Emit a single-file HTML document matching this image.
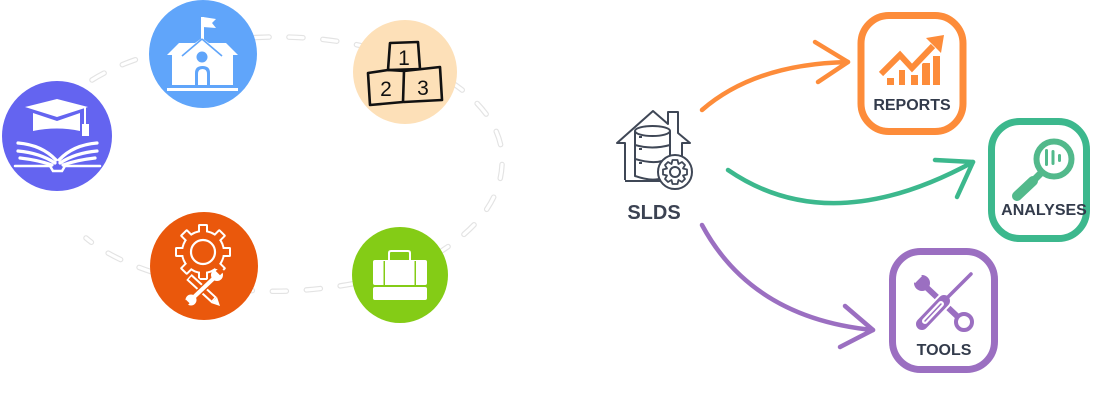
<!DOCTYPE html>
<html>
<head>
<meta charset="utf-8">
<style>
  html,body{margin:0;padding:0;background:#ffffff;}
  svg{display:block;}
  text{font-family:"Liberation Sans",sans-serif;}
</style>
</head>
<body>
<svg width="1100" height="400" viewBox="0 0 1100 400" xmlns="http://www.w3.org/2000/svg">
  <rect width="1100" height="400" fill="#ffffff"/>

  <!-- dashed loop -->
  <g fill="none" stroke-linecap="round">
    <path d="M 92,80 C 140,50 220,36 285,37 C 330,38 380,45 430,70 C 480,95 505,130 502,165 C 500,205 470,235 430,258 C 400,275 350,288 290,291 C 220,294 130,275 86,238"
      stroke="#e3e3e3" stroke-width="5.5" stroke-dasharray="14 20"/>
    <path d="M 92,80 C 140,50 220,36 285,37 C 330,38 380,45 430,70 C 480,95 505,130 502,165 C 500,205 470,235 430,258 C 400,275 350,288 290,291 C 220,294 130,275 86,238"
      stroke="#ffffff" stroke-width="3.2" stroke-dasharray="14 20"/>
  </g>

  <!-- Purple circle: graduation -->
  <circle cx="57" cy="136" r="55" fill="#6464f0"/>
  <g fill="#ffffff">
    <path d="M33,113 L57,121 L80,113 L80,131 Q57,126 33,131 Z"/>
    <polygon points="25,107 57,99 88,107 57,117"/>
    <rect x="84" y="107" width="2" height="18"/>
    <rect x="82" y="124" width="7" height="12"/>
  </g>
  <g fill="none" stroke="#ffffff" stroke-width="3.2" stroke-linecap="round">
    <path d="M18,143 Q42,145 56,160"/>
    <path d="M18,151 Q40,153 55,163"/>
    <path d="M20,158 Q38,160 52,165"/>
    <path d="M97,143 Q73,145 59,160"/>
    <path d="M97,151 Q75,153 60,163"/>
    <path d="M95,158 Q77,160 63,165"/>
    <path d="M15,166 L50,166 L53,171 L62,171 L65,166 L100,166" stroke-width="2.5"/>
  </g>

  <!-- Blue circle: school -->
  <circle cx="203" cy="54" r="54" fill="#60a5fa"/>
  <g fill="#ffffff">
    <rect x="201" y="17" width="3" height="24"/>
    <polygon points="203,17 216,19 212,23 216,28 203,27"/>
    <polygon points="167,55 179,43 195,43 202,38 209,43 226,43 238,55"/>
    <rect x="172" y="55" width="61" height="30"/>
    <rect x="167" y="88" width="71" height="3"/>
  </g>
  <g fill="none" stroke="#60a5fa" stroke-width="1.6">
    <path d="M202,39 L182,56 M202,39 L222,56"/>
  </g>
  <circle cx="202" cy="57" r="5.5" fill="#60a5fa"/>
  <path d="M195,85 L195,73 Q195,66 202.5,66 Q210,66 210,73 L210,85 Z" fill="#60a5fa"/>
  <path d="M198,85 L198,74 Q198,69 202.5,69 Q207,69 207,74 L207,85 Z" fill="#ffffff"/>

  <!-- Peach circle: blocks -->
  <circle cx="405" cy="72" r="52" fill="#fde0b8"/>
  <g fill="none" stroke="#111111" stroke-width="2.6" stroke-linejoin="round" stroke-linecap="round">
    <path d="M390,43 L418,42 L420,69 L388,70 Z"/>
    <path d="M368,73 L388,70 L404,71 L403,102 L370,105 Z"/>
    <path d="M404,71 L440,67 L442,100 L404,102"/>
  </g>
  <g fill="#111111" font-size="21" text-anchor="middle">
    <text x="404" y="65">1</text>
    <text x="386" y="96">2</text>
    <text x="423" y="95">3</text>
  </g>

  <!-- Green circle: briefcase -->
  <circle cx="400" cy="275" r="48" fill="#84cc16"/>
  <g fill="#ffffff">
    <rect x="373" y="260" width="54" height="25" rx="2"/>
    <rect x="373" y="287" width="54" height="13" rx="2"/>
  </g>
  <rect x="383.5" y="261" width="1.5" height="24" fill="#84cc16"/>
  <rect x="414.5" y="261" width="1.5" height="24" fill="#84cc16"/>
  <path d="M389,260 L389,253 Q389,251 391,251 L408,251 Q410,251 410,253 L410,260" fill="none" stroke="#ffffff" stroke-width="2"/>

  <!-- Orange circle: gear + tools -->
  <circle cx="204" cy="266" r="54" fill="#ea580c"/>
  <g>
    <g fill="#ffffff">
      <circle cx="203" cy="252" r="22"/>
      <rect x="198" y="224" width="10" height="12" rx="1.5"/>
      <rect x="198" y="224" width="10" height="12" rx="1.5" transform="rotate(45 203 252)"/>
      <rect x="198" y="224" width="10" height="12" rx="1.5" transform="rotate(90 203 252)"/>
      <rect x="198" y="224" width="10" height="12" rx="1.5" transform="rotate(135 203 252)"/>
      <rect x="198" y="224" width="10" height="12" rx="1.5" transform="rotate(180 203 252)"/>
      <rect x="198" y="224" width="10" height="12" rx="1.5" transform="rotate(225 203 252)"/>
      <rect x="198" y="224" width="10" height="12" rx="1.5" transform="rotate(270 203 252)"/>
      <rect x="198" y="224" width="10" height="12" rx="1.5" transform="rotate(315 203 252)"/>
    </g>
    <g fill="#ea580c">
      <circle cx="203" cy="252" r="20"/>
      <rect x="200" y="226" width="6" height="12" transform="rotate(0 203 252)"/>
      <rect x="200" y="226" width="6" height="12" transform="rotate(45 203 252)"/>
      <rect x="200" y="226" width="6" height="12" transform="rotate(90 203 252)"/>
      <rect x="200" y="226" width="6" height="12" transform="rotate(135 203 252)"/>
      <rect x="200" y="226" width="6" height="12" transform="rotate(180 203 252)"/>
      <rect x="200" y="226" width="6" height="12" transform="rotate(225 203 252)"/>
      <rect x="200" y="226" width="6" height="12" transform="rotate(270 203 252)"/>
      <rect x="200" y="226" width="6" height="12" transform="rotate(315 203 252)"/>
    </g>
    <circle cx="203" cy="252" r="12" fill="none" stroke="#ffffff" stroke-width="2.2"/>
    <!-- pencil -->
    <g stroke-linecap="butt">
      <line x1="189" y1="277" x2="214" y2="300" stroke="#ea580c" stroke-width="11"/>
      <line x1="189" y1="277" x2="214" y2="300" stroke="#ffffff" stroke-width="8"/>
      <line x1="190" y1="278" x2="213" y2="299" stroke="#ea580c" stroke-width="4"/>
      <polygon points="211,303 217,297 220,306" fill="#ffffff"/>
    </g>
    <!-- wrench -->
    <line x1="214" y1="278" x2="194" y2="297" stroke="#ea580c" stroke-width="7"/>
    <line x1="214" y1="278" x2="194" y2="297" stroke="#ffffff" stroke-width="4"/>
    <circle cx="217" cy="275" r="6" fill="#ffffff"/>
    <rect x="217" y="268" width="6" height="6" fill="#ea580c" transform="rotate(45 220 271)"/>
    <circle cx="191" cy="300" r="5.5" fill="#ffffff"/>
    <rect x="183" y="301" width="5" height="5" fill="#ea580c" transform="rotate(45 186 304)"/>
  </g>

  <!-- SLDS icon -->
  <g fill="none" stroke="#3f4756" stroke-width="2" stroke-linejoin="round">
    <path d="M625,180 L625,143 L617,143 L653,111 L668,124 L668,112 L678,112 L678,133 L690,143 L682,143 L682,156"/>
    <path d="M625,181 L660,181"/>
    <ellipse cx="652.5" cy="131" rx="17.5" ry="5"/>
    <path d="M635,131 L635,176 Q652,182 662,178"/>
    <path d="M670,131 L670,156"/>
    <path d="M635,145 Q652,150 670,145"/>
    <path d="M635,159 Q652,164 662,161"/>
    <circle cx="675" cy="172" r="17" fill="#ffffff"/>
    <circle cx="675" cy="172" r="5"/>
  </g>
  <g fill="#3f4756">
    <rect x="639" y="148" width="3" height="2"/>
    <rect x="639" y="162" width="3" height="2"/>
    <rect x="639" y="136" width="3" height="2"/>
  </g>
  <g fill="none" stroke="#3f4756" stroke-width="1.8" stroke-linejoin="round">
    <path d="M672.5,160 L677.5,160 L678.5,164 L682,162 L685,165 L683,168.5 L687,169.5 L687,174.5 L683,175.5 L685,179 L682,182 L678.5,180 L677.5,184 L672.5,184 L671.5,180 L668,182 L665,179 L667,175.5 L663,174.5 L663,169.5 L667,168.5 L665,165 L668,162 L671.5,164 Z"/>
  </g>
  <text x="654" y="219" font-size="20" font-weight="bold" fill="#3b4252" text-anchor="middle">SLDS</text>

  <!-- Arrows -->
  <g fill="none" stroke-linecap="round" stroke-linejoin="round" stroke-width="4.5">
    <path d="M702,110 Q755,64 848,62" stroke="#fd8c3a"/>
    <path d="M815,42 L848,62 L818,82" stroke="#fd8c3a"/>
    <path d="M728,170 Q830,240 973,162" stroke="#3cb88d"/>
    <path d="M935,160 L973,162 L957,197" stroke="#3cb88d"/>
    <path d="M702,225 Q752,318 873,330" stroke="#9b6fc1"/>
    <path d="M845,306 L873,330 L840,347" stroke="#9b6fc1"/>
  </g>

  <!-- REPORTS box -->
  <rect x="861" y="15.5" width="102" height="116" rx="28" fill="#ffffff" stroke="#fd8c3a" stroke-width="7"/>
  <g fill="#fd8c3a">
    <rect x="887" y="78" width="7" height="7"/>
    <rect x="899" y="70" width="6" height="15"/>
    <rect x="911" y="75" width="7" height="10"/>
    <rect x="922" y="63" width="8" height="22"/>
    <rect x="933" y="56" width="7" height="29"/>
  </g>
  <path d="M880,75 L900,54 L912,67 L934,45" fill="none" stroke="#ffffff" stroke-width="10" stroke-linejoin="miter"/>
  <path d="M881,74 L900,55 L912,68 L933,46" fill="none" stroke="#fd8c3a" stroke-width="6" stroke-linejoin="miter"/>
  <polygon points="926,38 944,35 941,53" fill="#fd8c3a"/>
  <text x="912" y="110" font-size="16" font-weight="bold" fill="#333b4b" text-anchor="middle">REPORTS</text>

  <!-- ANALYSES box -->
  <rect x="991.5" y="121.5" width="95" height="117" rx="28" fill="#ffffff" stroke="#3cb88d" stroke-width="7"/>
  <g fill="none" stroke="#52b98b" stroke-linecap="round">
    <circle cx="1054" cy="159" r="17.5" stroke-width="6"/>
    <line x1="1040" y1="174" x2="1035" y2="179" stroke-width="7"/>
    <line x1="1033" y1="181" x2="1017" y2="196" stroke-width="10"/>
  </g>
  <g fill="#52b98b">
    <rect x="1045" y="149" width="3" height="17" rx="1.5"/>
    <rect x="1051.5" y="150" width="3" height="15" rx="1.5"/>
    <rect x="1058" y="154" width="3" height="8" rx="1.5"/>
  </g>
  <text x="1044" y="215" font-size="16" font-weight="bold" fill="#333b4b" text-anchor="middle">ANALYSES</text>

  <!-- TOOLS box -->
  <rect x="892.5" y="251.5" width="102" height="118" rx="28" fill="#ffffff" stroke="#9b6fc1" stroke-width="7"/>
  <g stroke="#9b6fc1" stroke-linecap="round" fill="none">
    <line x1="924" y1="285" x2="958" y2="317" stroke-width="6"/>
    <circle cx="922" cy="283" r="8" fill="#9b6fc1" stroke="none"/>
    <rect x="910" y="271" width="10" height="10" fill="#ffffff" stroke="none" transform="rotate(45 915 276)"/>
    <circle cx="964" cy="322" r="8" fill="#ffffff" stroke-width="4"/>
    <line x1="971" y1="274" x2="944" y2="301" stroke-width="3.5"/>
    <line x1="945" y1="300" x2="921" y2="325" stroke="#ffffff" stroke-width="16" stroke-linecap="butt"/>
    <line x1="944" y1="301" x2="922" y2="324" stroke-width="12"/>
    <line x1="941" y1="304" x2="925" y2="321" stroke="#ffffff" stroke-width="6"/>
    <line x1="941" y1="304" x2="925" y2="321" stroke-width="1.5"/>
  </g>
  <text x="944" y="355" font-size="16" font-weight="bold" fill="#333b4b" text-anchor="middle">TOOLS</text>
</svg>
</body>
</html>
